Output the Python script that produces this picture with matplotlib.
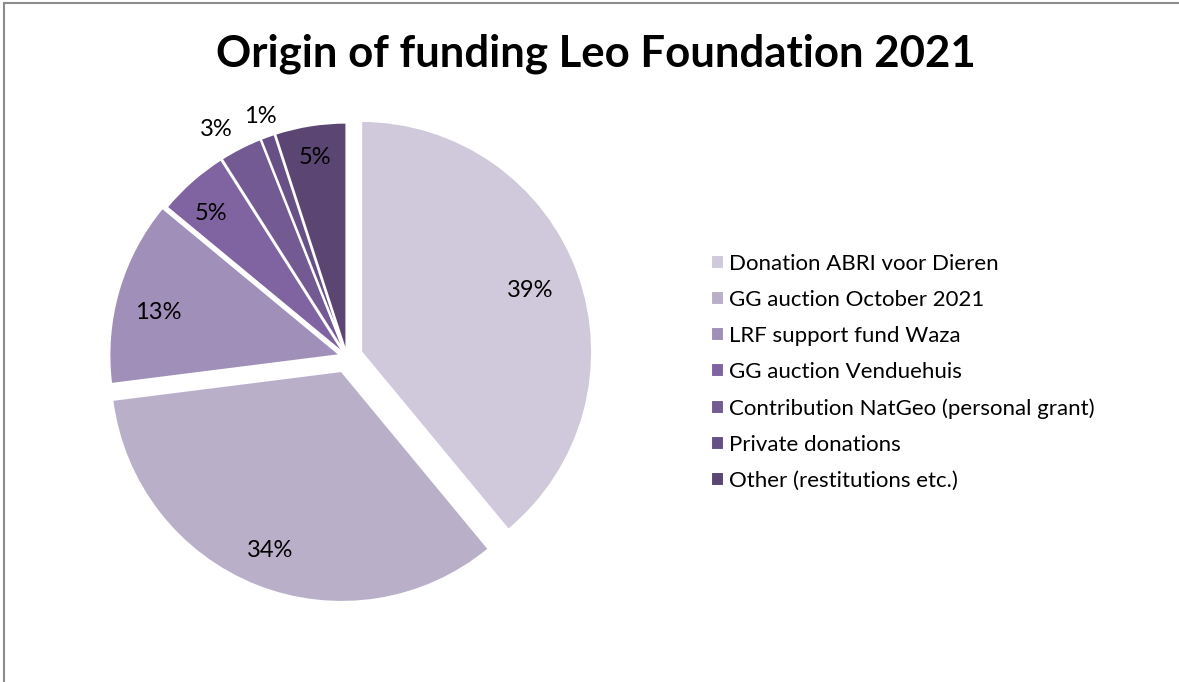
import matplotlib
matplotlib.use("Agg")
import matplotlib.pyplot as plt
from matplotlib.lines import Line2D
import numpy as np

categories = ["Donation ABRI voor Dieren", "GG auction October 2021", "LRF support fund Waza",
              "GG auction Venduehuis", "Contribution NatGeo (personal grant)",
              "Private donations", "Other (restitutions etc.)"]
shares = [39, 34, 13, 5, 3, 1, 5]
pct_labels = ["39%", "34%", "13%", "5%", "3%", "1%", "5%"]
colors = ["#CFC9DB", "#BAAFC9", "#A08FB8", "#8064A2", "#735A93", "#665085", "#5A4573"]
explode = [0.065, 0.065, 0.03, 0.015, 0.015, 0.015, 0.015]
label_dist = [0.78, 0.835, 0.81, 0.84, 1.12, 1.09, 0.86]
label_turn = [0, 0, 3, 2, 3, 0, 0]

plt.rcParams['font.family'] = ['Lato', 'DejaVu Sans']

W, H = 1179, 682
fig = plt.figure(figsize=(W / 100, H / 100), dpi=100)

# frame lines (top and left)
fig.add_artist(Line2D([4 / W, 1], [1 - 3 / H, 1 - 3 / H], color="#8c8c8c", lw=1.5))
fig.add_artist(Line2D([4 / W, 4 / W], [0, 1 - 3 / H], color="#8c8c8c", lw=1.5))

cx, cy, r = 347, 357, 231
half = 1.3 * r
ax = fig.add_axes([(cx - half) / W, (H - cy - half) / H, 2 * half / W, 2 * half / H])
wedges, _ = ax.pie(shares, colors=colors, startangle=90, counterclock=False,
                   explode=explode, radius=1,
                   wedgeprops=dict(edgecolor="white", linewidth=1.5))
ax.set_xlim(-1.3, 1.3)
ax.set_ylim(-1.3, 1.3)
ax.set_aspect("equal")
ax.axis("off")

for w, lab, d, e, t in zip(wedges, pct_labels, label_dist, explode, label_turn):
    ang = np.deg2rad((w.theta1 + w.theta2) / 2 + t)
    rr = d + e
    ax.text(rr * np.cos(ang), rr * np.sin(ang), lab, ha="center", va="center",
            fontsize=17, color="#000000")

fig.text(596 / W, 1 - 54 / H, "Origin of funding Leo Foundation 2021", ha="center", va="center",
         fontsize=31.5, fontweight="bold", color="#000000")

fig.legend(wedges, categories, loc="upper left", bbox_to_anchor=(711 / W, 1 - 254 / H),
           frameon=False, fontsize=16, handlelength=0.6, handleheight=0.6,
           handletextpad=0.22, labelspacing=0.72, borderpad=0, borderaxespad=0)

fig.savefig("out.png", dpi=100)
